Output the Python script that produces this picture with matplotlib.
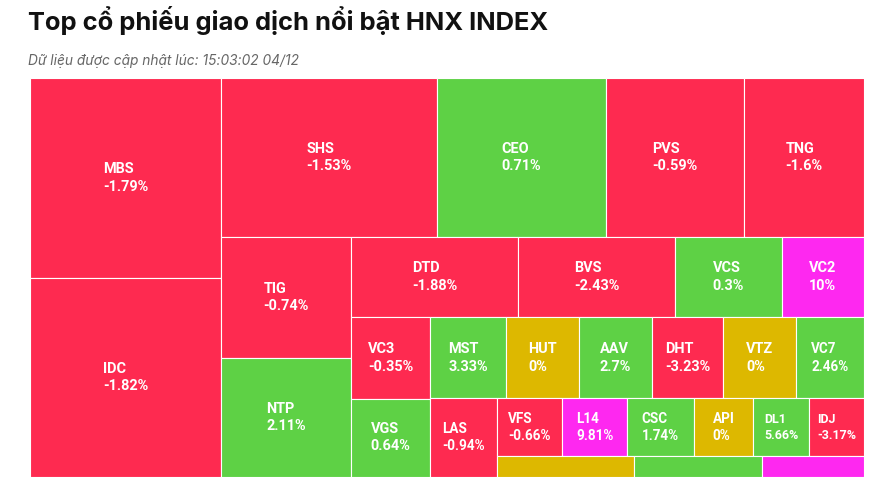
import math
import matplotlib
matplotlib.use('Agg')
import matplotlib.pyplot as plt
from matplotlib.patches import Rectangle

# data: ticker, % change, trading value (relative size of each cell)
tickers = ['MBS', 'IDC', 'SHS', 'CEO', 'PVS', 'TNG', 'TIG', 'NTP', 'DTD', 'BVS',
           'VCS', 'VC2', 'VC3', 'VGS', 'MST', 'HUT', 'AAV', 'DHT', 'VTZ', 'VC7',
           'LAS', 'VFS', 'L14', 'CSC', 'API', 'DL1', 'IDJ', '', '', '']
changes = [-1.79, -1.82, -1.53, 0.71, -0.59, -1.6, -0.74, 2.11, -1.88, -2.43,
           0.3, 10, -0.35, 0.64, 3.33, 0, 2.7, -3.23, 0, 2.46,
           -0.94, -0.66, 9.81, 1.74, 0, 5.66, -3.17, 0, 1.2, 9.9]
values = [384.8, 380.5, 344.1, 268.3, 220.8, 190.7, 157.3, 153.6, 134.3, 126.1,
          85.4, 66.1, 64.4, 62.0, 61.2, 59.8, 58.8, 58.1, 58.8, 55.5,
          51.9, 37.7, 37.4, 38.2, 34.3, 32.2, 31.5, 28.5, 26.5, 21.1]

title = 'Top cổ phiếu giao dịch nổi bật HNX INDEX'
subtitle = 'Dữ liệu được cập nhật lúc: 15:03:02 04/12'

RED = '#FE2A50'
GREEN = '#5ED145'
YELLOW = '#DDB800'
PURPLE = '#FE28F0'


def cell_color(v):
    if v >= 9.5:
        return PURPLE
    if v > 0:
        return GREEN
    if v == 0:
        return YELLOW
    return RED


# squarified layout, alternating direction (same idea as highcharts)
class Group:
    def __init__(self, w, h):
        self.width, self.height = w, h
        self.direction = 0
        self.nH = self.lH = 0
        self.lR = self.nR = 0
        self.reset()

    def reset(self):
        self.nW = self.lW = 0
        self.total = 0
        self.el = []

    def add(self, a):
        last = self.el[-1] if self.el else None
        self.total += a
        if self.direction == 0:
            self.lW = self.nW
            self.nW = self.total / self.height
            if last is not None:
                lh = last / self.lW
                self.lR = max(self.lW / lh, lh / self.lW)
                nh = last / self.nW
                self.nR = max(self.nW / nh, nh / self.nW)
        else:
            self.lH = self.nH
            self.nH = self.total / self.width
            if last is not None:
                lw = last / self.lH
                self.lR = max(lw / self.lH, self.lH / lw)
                nw = last / self.nH
                self.nR = max(nw / self.nH, self.nH / nw)
        if last is None:
            self.lR = self.nR = 0
        self.el.append(a)


def layout(vals, W, H):
    tot = sum(vals)
    areas = [W * H * v / tot for v in vals]
    g = Group(W, H)
    rects = []

    def place(last):
        px = W - g.width
        py = H - g.height
        if last:
            gw, gh, items = g.nW, g.nH, g.el
        else:
            gw, gh, items = g.lW, g.lH, g.el[:-1]
            keep = g.el[-1]
        for a in items:
            if g.direction == 0:
                rects.append((px, py, gw, a / gw))
                py += a / gw
            else:
                rects.append((px, py, a / gh, gh))
                px += a / gh
        g.reset()
        if g.direction == 0:
            g.width -= gw
        else:
            g.height -= gh
        g.direction = 1 - g.direction
        if not last:
            g.add(keep)

    for i, a in enumerate(areas):
        g.add(a)
        if g.nR > g.lR:
            place(False)
        if i == len(areas) - 1:
            place(True)
    return rects


FW, FH = 892, 492
fig = plt.figure(figsize=(FW / 100, FH / 100), dpi=100)
fig.patch.set_facecolor('white')

left, top, W, H = 29.5, 77.7, 834.5, 399.0
ax = fig.add_axes([left / FW, 1 - (top + H) / FH, W / FW, H / FH])
ax.set_xlim(0, W)
ax.set_ylim(H, 0)
ax.axis('off')

rects = layout(values, W, H)
for (x, y, w, h), name, ch in zip(rects, tickers, changes):
    ax.add_patch(Rectangle((x, y), w, h, facecolor=cell_color(ch),
                           edgecolor='white', linewidth=0.8))
    if not name or h < 30:
        continue
    area = w * h
    if area >= 5600:
        px = 14.5
    elif area >= 3300:
        px = 13.5
    else:
        px = 12.5
    ax.text(x + w / 2, y + h / 2, f'{name}\n{ch:g}%', ha='center', va='center',
            multialignment='left', color='white', fontsize=px * 0.72,
            fontweight='bold', family=['Roboto', 'DejaVu Sans'], linespacing=1.3)

fig.text(28 / FW, 1 - 30 / FH, title, fontsize=18.4, fontweight='bold',
         family=['Inter', 'DejaVu Sans'], color='#111111', va='baseline', ha='left')
fig.text(28 / FW, 1 - 65 / FH, subtitle, fontsize=9.9, style='italic',
         family=['Inter', 'DejaVu Sans'], color='#666666', va='baseline', ha='left')

fig.savefig('out.png', dpi=100)
